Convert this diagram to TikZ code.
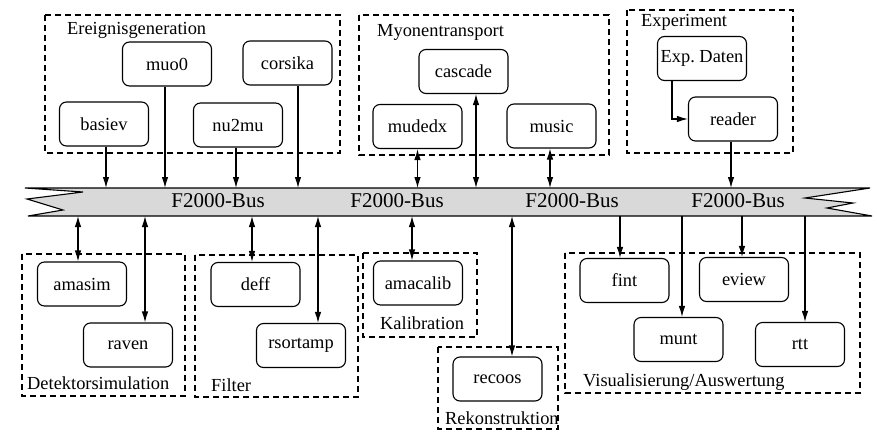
\documentclass[tikz,border=0pt]{standalone}
\usepackage{fontspec}
\setmainfont{Liberation Serif}
\usetikzlibrary{arrows.meta}

\tikzset{
  prog/.style={draw, rounded corners=7pt, line width=1.1pt, minimum width=89pt,
    minimum height=44pt, inner sep=2pt, font=\fontsize{18.4}{22}\selectfont},
  group/.style={line width=1.2pt, dash pattern=on 6pt off 4pt},
  grouplabel/.style={anchor=west, inner sep=0pt, font=\fontsize{18.4}{22}\selectfont},
  buslabel/.style={inner sep=0pt, font=\fontsize{21}{24}\selectfont},
  link/.style={-{Latex[length=11pt,width=6.5pt]}, line width=1.1pt},
  dlink/.style={{Latex[length=11pt,width=6.5pt]}-{Latex[length=11pt,width=6.5pt]}, line width=1.1pt}
}

\begin{document}
\begin{tikzpicture}[x=1pt,y=-1pt]
  \useasboundingbox (0,0) rectangle (877,431);

  % bus
  \draw[line width=1.1pt, fill=gray!30]
    (25,188) -- (870,188) -- (805,198) -- (853,203) -- (827,208) -- (872,216)
    -- (28,216) -- (63,210) -- (27,199) -- (83,192) -- cycle;
  \coordinate (bustop) at (0,188);
  \coordinate (busbot) at (0,216);
  \foreach \n/\x in {1/218,2/397,3/572,4/738} {\node[buslabel] (bus\n) at (\x,201) {F2000-Bus};}

  % groups
  \draw[group] (45,15) rectangle (340,153);
  \draw[group] (359,15) rectangle (609,155);
  \draw[group] (627,10) rectangle (793,153);
  \draw[group] (22,254) rectangle (185,396);
  \draw[group] (195,255) rectangle (358,397);
  \draw[group] (363,253) rectangle (477,337);
  \draw[group] (438,347) rectangle (558,429);
  \draw[group] (565,253) rectangle (860,393);
  \node[grouplabel] (ereignis) at (67,30) {Ereignisgeneration};
  \node[grouplabel] (myonen) at (377,32) {Myonentransport};
  \node[grouplabel] (experiment) at (641,22) {Experiment};
  \node[grouplabel] (detektor) at (27,383) {Detektorsimulation};
  \node[grouplabel] (filter) at (211,385) {Filter};
  \node[grouplabel] (kalib) at (380,323) {Kalibration};
  \node[grouplabel] (rekon) at (445,418) {Rekonstruktion};
  \node[grouplabel] (visual) at (583,382) {Visualisierung/Auswertung};

  % programs
  \foreach \n/\x/\y in {muo0/167/64, corsika/287.5/63, basiev/104/124, nu2mu/238/125,
      cascade/463.5/71.5, mudedx/417.5/126.5, music/551.5/126, reader/733/119,
      amasim/82/284, raven/128/345, deff/255.5/284.5, rsortamp/301/345.5,
      amacalib/418/283, recoos/497.5/379, fint/624.5/280.5, eview/744/279.5,
      munt/678.5/339.5, rtt/800/344.5}
    {\node[prog] (\n) at (\x,\y) {\n};}
  \node[prog] (expdaten) at (702,58.5) {Exp.\ Daten};

  % connections
  \foreach \n/\s in {basiev/2, muo0/-2, nu2mu/-2, corsika/10.5, reader/-2}
    {\draw[link] ([xshift=\s pt]\n.south) -- ([xshift=\s pt]\n.south |- bustop);}
  \foreach \n/\s in {mudedx/0, cascade/12.5, music/-1.5}
    {\draw[dlink] ([xshift=\s pt]\n.south) -- ([xshift=\s pt]\n.south |- bustop);}
  \foreach \n/\s in {amasim/-4, raven/17, deff/-3.5, rsortamp/17, amacalib/-6, recoos/14.5}
    {\draw[dlink] ([xshift=\s pt]\n.north |- busbot) -- ([xshift=\s pt]\n.north);}
  \foreach \n/\s in {fint/-4.5, munt/3.5, eview/-2, rtt/5}
    {\draw[link] ([xshift=\s pt]\n.north |- busbot) -- ([xshift=\s pt]\n.north);}
  \draw[link] ([xshift=-30pt]expdaten.south) |- (reader.west);
\end{tikzpicture}
\end{document}
